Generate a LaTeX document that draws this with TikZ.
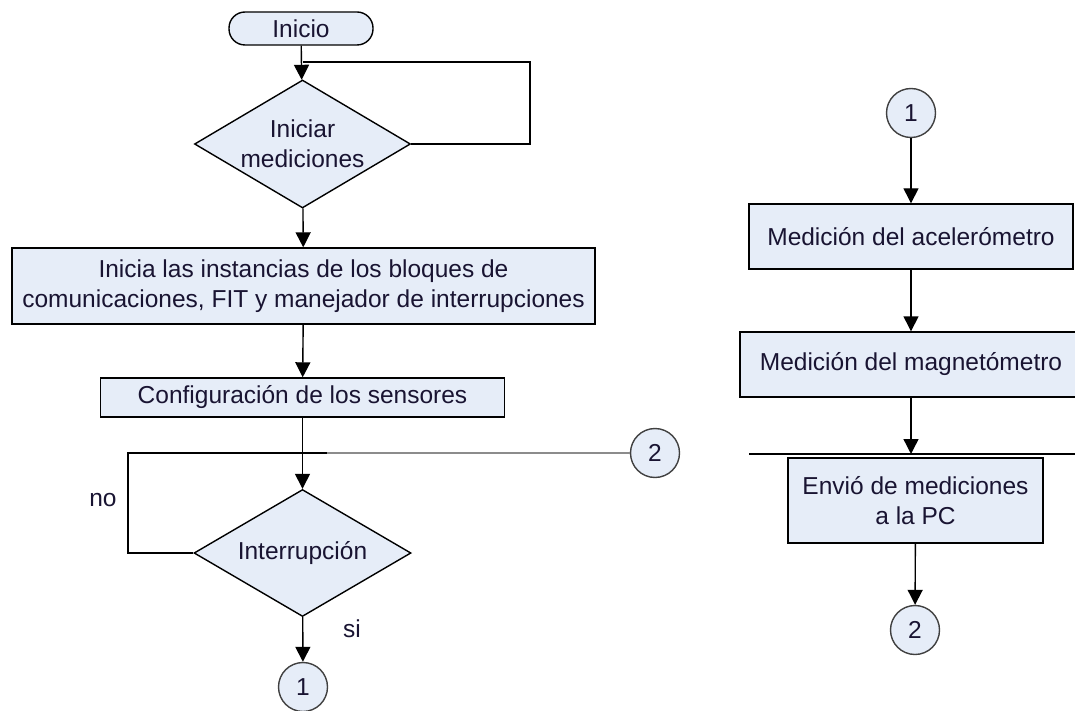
\documentclass[tikz,border=0pt]{standalone}
\usepackage{fontspec}
\setmainfont{Liberation Sans}
\usetikzlibrary{shapes.geometric,arrows.meta}
\definecolor{boxfill}{RGB}{230,237,248}
\definecolor{txt}{RGB}{25,20,50}
\begin{document}
\begin{tikzpicture}[x=1pt,y=-1pt,
  every node/.style={font=\fontsize{24.5}{30}\selectfont, text=txt},
  base/.style={draw=black, line width=1.4pt, fill=boxfill, inner sep=0pt, align=center},
  procbox/.style={base, rectangle},
  termbox/.style={base, rectangle, rounded corners=16pt},
  decbox/.style={base, diamond, aspect=1.6875},
  conn/.style={base, circle, draw=black!75, minimum size=49pt},
  flow/.style={line width=1.4pt, draw=black, -{Triangle[width=15pt,length=15pt]}},
  plain/.style={line width=1.4pt, draw=black},
  lbl/.style={inner sep=0pt}]
\useasboundingbox (0,0) rectangle (1075,711);
\clip (0,0) rectangle (1075,711);
% left column
\node[termbox, minimum width=144pt, minimum height=33pt] (inicio) at (301,28.5) {Inicio};
\node[decbox, minimum width=216pt, minimum height=128pt] (d1) at (302.5,144) {Iniciar\\mediciones};
\node[procbox, minimum width=583pt, minimum height=76pt] (b1) at (303.5,286) {Inicia las instancias de los bloques de\\comunicaciones, FIT y manejador de interrupciones};
\node[procbox, minimum width=404pt, minimum height=39pt] (b2) at (302.5,397.5) {Configuración de los sensores};
\node[decbox, minimum width=217pt, minimum height=127pt] (d2) at (302.5,553) {Interrupción};
\node[conn] (c1) at (303,687) {1};
\node[conn] (c2) at (655,453) {2};
\node[lbl] (no) at (103,500) {no};
\node[lbl] (si) at (352,629) {si};
\coordinate (j1) at (302.5,62);
\coordinate (j1r) at (530,62);
\coordinate (j2) at (128,453);
\coordinate (j2m) at (327,453);
\draw[flow] (inicio) -- (d1);
\draw[plain] (d1.east) -| (j1r) -- (j1);
\draw[flow] (d1) -- (b1);
\draw[flow] (b1) -- (b2);
\draw[flow] (b2) -- (d2);
\draw[plain] (d2.west) -| (j2) -- (j2m);
\draw[line width=1.4pt, draw=black!45] (j2m) -- (c2);
\draw[flow] (d2) -- (c1);
% right column
\node[conn] (r1) at (911,113) {1};
\node[procbox, minimum width=324pt, minimum height=65pt] (a1) at (911,236.5) {Medición del acelerómetro};
\node[procbox, minimum width=342pt, minimum height=65pt] (a2) at (911,364.5) {Medición del magnetómetro};
\node[procbox, minimum width=255pt, minimum height=85pt] (a3) at (915.5,500.5) {Envió de mediciones\\a la PC};
\node[conn] (r2) at (915,630) {2};
\coordinate (hl) at (749,454);
\coordinate (hr) at (1075,454);
\coordinate (hm) at (911,454);
\draw[plain] (hl) -- (hr);
\draw[flow] (r1) -- (a1);
\draw[flow] (a1) -- (a2);
\draw[flow] (a2.south) -- (hm);
\draw[flow] (a3) -- (r2);
\end{tikzpicture}
\end{document}
